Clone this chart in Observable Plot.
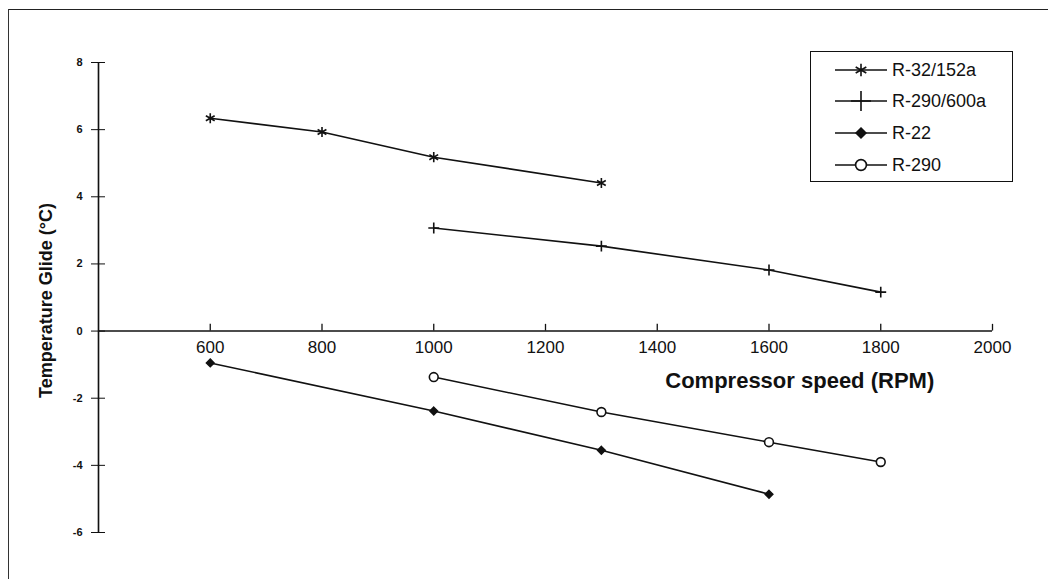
<!DOCTYPE html>
<html><head><meta charset="utf-8">
<script src="https://cdn.jsdelivr.net/npm/d3@7"></script>
<script src="https://cdn.jsdelivr.net/npm/@observablehq/plot@0.6"></script>
<style>
body{margin:0;background:#fff;font-family:"Liberation Sans",Arial,Helvetica,sans-serif;}
#wrap{position:relative;width:1056px;height:579px;overflow:hidden;background:#fff;}
#chart{position:absolute;left:0;top:0;width:1056px;height:579px;}
.bt{position:absolute;left:8px;top:9px;width:1040px;height:0;border-top:1.5px solid #222;z-index:2;}
.bl{position:absolute;left:8px;top:9px;width:0;height:572px;border-left:1.5px solid #333;z-index:2;}
#yaxisline{position:absolute;width:0;border-left:1.6px solid #111;z-index:3;}
#legend{position:absolute;left:810px;top:51px;width:203px;height:131px;border:1.5px solid #111;background:#fff;box-sizing:border-box;z-index:2;}
.row{position:absolute;left:24px;height:24px;display:flex;align-items:center;font-size:18px;color:#111;white-space:nowrap;}
.row svg{margin-right:5px;}
</style></head>
<body>
<div id="wrap"><div id="chart"></div><div class="bt"></div><div class="bl"></div><div id="yaxisline"></div><div id="legend"></div></div>
<script>
// ---- data ----
const seriesNames = ["R-32/152a", "R-290/600a", "R-22", "R-290"];
const rpmR32_152a = [600, 800, 1000, 1300];
const glideR32_152a = [6.34, 5.93, 5.18, 4.41];
const rpmR290_600a = [1000, 1300, 1600, 1800];
const glideR290_600a = [3.07, 2.53, 1.82, 1.16];
const rpmR22 = [600, 1000, 1300, 1600];
const glideR22 = [-0.95, -2.38, -3.55, -4.86];
const rpmR290 = [1000, 1300, 1600, 1800];
const glideR290 = [-1.37, -2.41, -3.31, -3.90];
const xTicks = [600, 800, 1000, 1200, 1400, 1600, 1800, 2000];
const yTicks = [-6, -4, -2, 0, 2, 4, 6, 8];
const xTitle = "Compressor speed (RPM)";
const yTitle = "Temperature Glide (°C)";

const seriesData = [
  {name: seriesNames[0], rpm: rpmR32_152a, glide: glideR32_152a, symbol: "asterisk", fill: "none", stroke: "#111", r: 4.8},
  {name: seriesNames[1], rpm: rpmR290_600a, glide: glideR290_600a, symbol: "plus", fill: "none", stroke: "#111", r: 3.6},
  {name: seriesNames[2], rpm: rpmR22, glide: glideR22, symbol: "diamond2", fill: "#111", stroke: "#111", r: 3.4},
  {name: seriesNames[3], rpm: rpmR290, glide: glideR290, symbol: "circle", fill: "white", stroke: "#111", r: 4.4}
];
const rows = seriesData.flatMap(s => s.rpm.map((x, i) => ({series: s.name, rpm: x, glide: s.glide[i]})));

const W = 1056, H = 579;
const mT = 62, mB = 47, mL = 98, mR = 64;
const xDomain = [400, 2000], yDomain = [-6, 8];

const marks = [
  Plot.ruleY([0], {x1: xDomain[0], x2: xDomain[1], stroke: "#111", strokeWidth: 1.5}),
  Plot.axisY({ticks: yTicks, tickSize: 14, dx: 7, tickPadding: 9, fontSize: 11, fontWeight: "bold", label: null, tickFormat: d => String(d)}),
  Plot.ruleX(xTicks, {x: d => d, y1: 0, y2: 0.2, stroke: "#111", strokeWidth: 1.3}),
  Plot.text(xTicks, {x: d => d, y: 0, dy: 16, text: d => String(d), fontSize: 17, fill: "#111"}),
  Plot.text([xTitle], {x: () => 1655, y: () => -1.5, text: d => d, fontSize: 22, fontWeight: "bold", fill: "#111"}),
  Plot.text([yTitle], {frameAnchor: "left", textAnchor: "middle", rotate: -90, dx: -52, dy: 3, text: d => d, fontSize: 18, fontWeight: "bold", fill: "#111"}),
  Plot.line(rows, {x: "rpm", y: "glide", z: "series", stroke: "#111", strokeWidth: 1.6})
];
for (const s of seriesData) {
  marks.push(Plot.dot(rows.filter(d => d.series === s.name), {
    x: "rpm", y: "glide", symbol: () => s.symbol, r: s.r, fill: s.fill, stroke: s.stroke, strokeWidth: 1.6
  }));
}
marks.push(Plot.ruleX([xDomain[0]], {y1: yDomain[0], y2: yDomain[1], stroke: "black", strokeWidth: 1.6}));

const chart = Plot.plot({
  width: W, height: H,
  marginTop: mT, marginBottom: mB, marginLeft: mL, marginRight: mR,
  style: {fontFamily: "'Liberation Sans', Arial, sans-serif", background: "white", color: "#111"},
  x: {domain: xDomain, axis: null},
  y: {domain: yDomain, axis: null},
  symbol: {type: "identity"},
  marks
});
document.getElementById("chart").appendChild(chart);

// y-axis line placed from the chart's own scales
const sx = chart.scale("x"), sy = chart.scale("y");
const axisLine = document.getElementById("yaxisline");
const ax = sx.apply(xDomain[0]);
const yTop = sy.apply(yDomain[1]), yBot = sy.apply(yDomain[0]);
axisLine.style.left = (ax - 0.3) + "px";
axisLine.style.top = yTop + "px";
axisLine.style.height = (yBot - yTop) + "px";

// ---- legend ----
const legend = document.getElementById("legend");
const rowCenters = [18, 49, 81, 113];
const symMap = {asterisk: d3.symbolAsterisk, plus: d3.symbolPlus, diamond2: d3.symbolDiamond2, circle: d3.symbolCircle};
seriesData.forEach((s, i) => {
  const row = document.createElement("div");
  row.className = "row";
  row.style.top = (rowCenters[i] - 12) + "px";
  const svg = d3.create("svg").attr("width", 52).attr("height", 24);
  svg.append("line").attr("x1", 0).attr("x2", 52).attr("y1", 12).attr("y2", 12).attr("stroke", "#111").attr("stroke-width", 1.6);
  const lr = s.symbol === "plus" ? 6.5 : s.r + 1;
  svg.append("path").attr("transform", "translate(26,12)")
    .attr("d", d3.symbol(symMap[s.symbol], Math.PI * lr * lr)())
    .attr("fill", s.fill).attr("stroke", s.stroke).attr("stroke-width", 1.6);
  row.appendChild(svg.node());
  const t = document.createElement("span");
  t.textContent = s.name;
  row.appendChild(t);
  legend.appendChild(row);
});
</script>
</body></html>
